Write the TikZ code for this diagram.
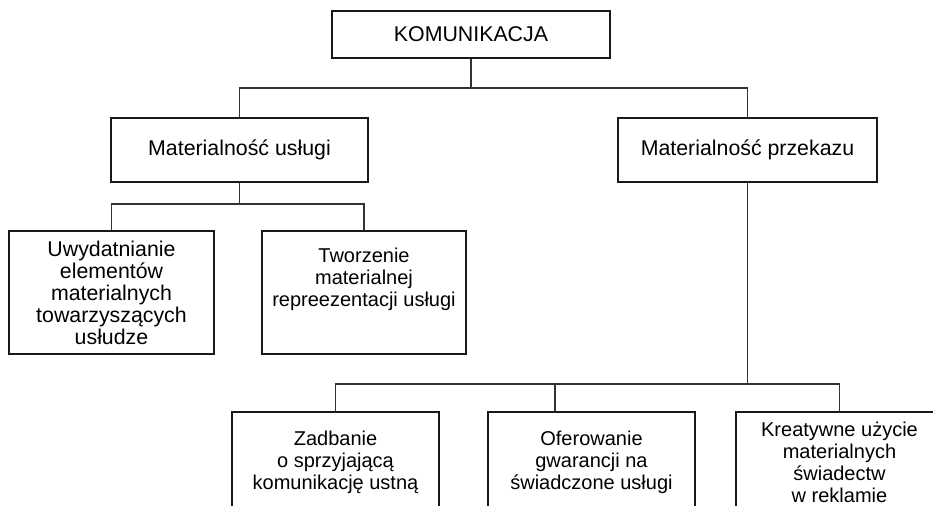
\documentclass[tikz,border=0pt]{standalone}
\usepackage{fontspec}
\setmainfont{Liberation Sans}

\begin{document}
\begin{tikzpicture}[x=0.75pt, y=-0.75pt,
    box/.style={draw=black!90, line width=1.4pt, align=center, inner sep=2pt,
        font=\fontsize{16}{16.5}\selectfont},
    small/.style={box, font=\fontsize{15}{16.5}\selectfont},
    link/.style={draw=black!80, line width=0.8pt}]
    \clip (0,0) rectangle (933,506);

    \node [box, minimum width=208.5pt, minimum height=35.25pt] (K) at (471,34.5) {KOMUNIKACJA};
    \node [box, minimum width=193pt, minimum height=48pt] (MU) at (239.5,150) {Materialność usługi};
    \node [box, minimum width=194pt, minimum height=48pt] (MP) at (747.5,150) {Materialność przekazu};

    \node [box, minimum width=154pt, minimum height=92pt] (UE) at (111.5,292.5)
        {Uwydatnianie\\elementów\\materialnych\\towarzyszących\\usłudze};
    \node [small, minimum width=153pt, minimum height=92pt] (TM) at (364,292.5)
        {Tworzenie\\materialnej\\repreezentacji usługi\\[6pt] \mbox{}};

    \node [small, minimum width=155pt, minimum height=75pt] (ZK) at (335.5,462)
        {Zadbanie\\o sprzyjającą\\komunikację ustną};
    \node [small, minimum width=155pt, minimum height=75pt] (OG) at (591.5,462)
        {Oferowanie\\gwarancji na\\świadczone usługi};
    \node [small, minimum width=155pt, minimum height=75pt] (KU) at (839.5,462)
        {Kreatywne użycie\\materialnych\\świadectw\\w reklamie};

    \coordinate (J1) at (471,88);
    \coordinate (J2) at (239.5,204);
    \coordinate (J3) at (747.5,384);
    \coordinate (J4) at (555,384);

    \draw [link] (K) -- (J1);
    \draw [link] (MU.north) |- (J1) -| (MP.north);
    \draw [link] (MU) -- (J2);
    \draw [link] (UE.north) |- (J2) -| (TM.north);
    \draw [link] (MP) -- (J3);
    \draw [link] (ZK.north) |- (J3) -| (KU.north);
    \draw [link] (J4) -- (J4 |- OG.north);
\end{tikzpicture}
\end{document}
